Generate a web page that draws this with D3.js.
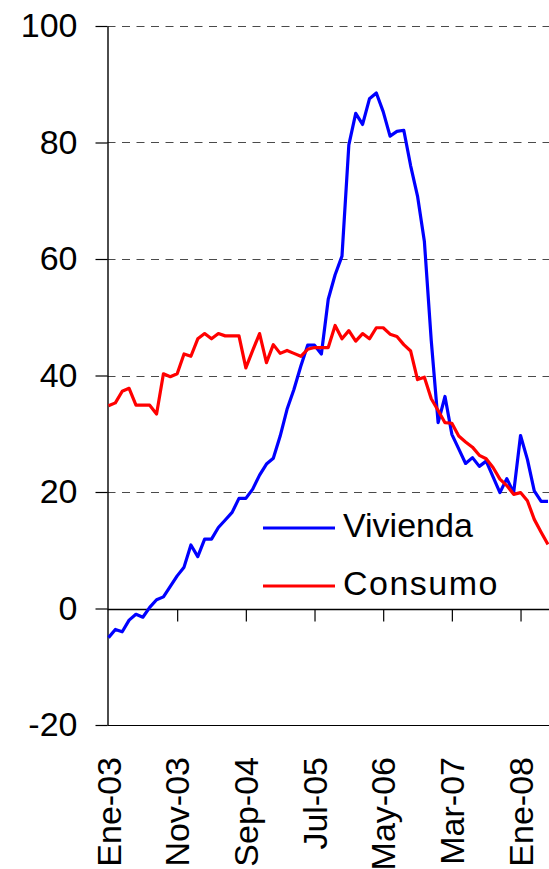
<!DOCTYPE html>
<html>
<head>
<meta charset="utf-8">
<script src="https://cdn.jsdelivr.net/npm/d3@7"></script>
<style>
  html, body { margin: 0; padding: 0; background: #fff; }
  svg { display: block; font-family: "Liberation Sans", Arial, sans-serif; }
</style>
</head>
<body>
<svg id="chart" width="549" height="869"></svg>
<script>
// Monthly growth rates (%), Jan 2003 to May 2008
const monthNames = ["Ene","Feb","Mar","Abr","May","Jun","Jul","Ago","Sep","Oct","Nov","Dic"];
const categories = d3.range(65).map(i => monthNames[i % 12] + "-" + String(3 + Math.floor(i / 12)).padStart(2, "0"));

const vivienda = [
  -5.0, -3.6, -4.0, -2.0, -1.0, -1.5, 0.2, 1.5, 2.0, 3.8,
  5.6, 7.1, 10.9, 8.9, 11.9, 11.9, 13.9, 15.2, 16.5, 18.9,
  18.9, 20.5, 22.9, 24.8, 25.8, 29.6, 34.2, 37.6, 41.6, 45.2,
  45.2, 43.7, 53.1, 57.3, 60.5, 79.6, 85.0, 83.1, 87.5, 88.5,
  85.3, 81.1, 81.9, 82.1, 76.0, 70.8, 63.0, 46.0, 31.9, 36.4,
  29.9, 27.4, 24.9, 25.9, 24.4, 25.3, 22.6, 19.9, 22.3, 19.9,
  29.7, 25.6, 20.2, 18.4, 18.4
];

const consumo = [
  34.8, 35.3, 37.3, 37.8, 34.9, 34.9, 34.9, 33.4, 40.3, 39.8,
  40.3, 43.7, 43.3, 46.3, 47.2, 46.3, 47.2, 46.8, 46.8, 46.8,
  41.3, 44.3, 47.2, 42.2, 45.3, 43.8, 44.3, 43.8, 43.3, 44.5,
  44.8, 44.8, 44.8, 48.6, 46.3, 47.7, 45.9, 47.2, 46.3, 48.2,
  48.2, 47.1, 46.7, 45.3, 44.2, 39.3, 39.7, 36.0, 34.0, 31.9,
  31.8, 29.6, 28.6, 27.7, 26.3, 25.7, 24.2, 22.2, 21.1, 19.6,
  19.9, 18.5, 15.3, 13.1, 11.0
];

const yTicks = [-20, 0, 20, 40, 60, 80, 100];
const gridValues = [20, 40, 60, 80, 100];
const xTickLabels = ["Ene-03", "Nov-03", "Sep-04", "Jul-05", "May-06", "Mar-07", "Ene-08"];

const series = [
  { name: "Vivienda", values: vivienda, color: "#0000ff" },
  { name: "Consumo", values: consumo, color: "#ff0000" }
];

const svg = d3.select("#chart");
const plotLeft = 107.5, plotRight = 549;

const x = d3.scalePoint().domain(categories).range([108.5, 548]);
const y = d3.scaleLinear().domain([-20, 100]).range([725, 26]);

// dashed horizontal gridlines
svg.append("g")
  .selectAll("line")
  .data(gridValues)
  .join("line")
  .attr("x1", plotLeft).attr("x2", plotRight)
  .attr("y1", d => Math.round(y(d)) + 0.5).attr("y2", d => Math.round(y(d)) + 0.5)
  .attr("stroke", "#4a4a4a")
  .attr("stroke-width", 1.2)
  .attr("stroke-dasharray", "8,6.5");

// bottom edge of the plot area
svg.append("line")
  .attr("x1", plotLeft).attr("x2", plotRight)
  .attr("y1", Math.round(y(-20)) + 0.5).attr("y2", Math.round(y(-20)) + 0.5)
  .attr("stroke", "#000").attr("stroke-width", 1.2);

// value axis (plain hyphen for negatives)
const yAxis = svg.append("g")
  .attr("transform", `translate(${plotLeft},0)`)
  .call(d3.axisLeft(y).tickValues(yTicks).tickSize(12).tickSizeOuter(0).tickPadding(18)
    .tickFormat(d => String(d)));
yAxis.select(".domain").attr("stroke", "#000").attr("stroke-width", 1.4);
yAxis.selectAll(".tick line").attr("stroke", "#000").attr("stroke-width", 1.2);
yAxis.selectAll(".tick text")
  .attr("font-size", 34)
  .attr("fill", "#000")
  .attr("font-family", "'Liberation Sans', Arial, sans-serif");

// category axis along the zero line
const xTickCats = xTickLabels.map(l => categories[categories.indexOf(l)]);
const xAxis = svg.append("g")
  .attr("transform", `translate(0,${Math.round(y(0)) + 0.5})`)
  .call(d3.axisBottom(x).tickValues(xTickCats.slice(1)).tickSize(12).tickSizeOuter(0).tickFormat(""));
xAxis.select(".domain").remove();
xAxis.selectAll(".tick line").attr("stroke", "#000").attr("stroke-width", 1.2);
svg.append("line")
  .attr("x1", plotLeft).attr("x2", plotRight)
  .attr("y1", Math.round(y(0)) + 0.5).attr("y2", Math.round(y(0)) + 0.5)
  .attr("stroke", "#000").attr("stroke-width", 1.4);

// rotated month labels below the plot
svg.append("g")
  .selectAll("text")
  .data(xTickCats)
  .join("text")
  .attr("transform", d => `translate(${x(d)},757) rotate(-90)`)
  .attr("text-anchor", "end")
  .attr("dy", "0.36em")
  .attr("font-size", 34)
  .attr("fill", "#000")
  .text(d => d);

// series lines
const line = d3.line()
  .x((d, i) => x(categories[i]))
  .y(d => y(d));

svg.append("g")
  .selectAll("path")
  .data(series)
  .join("path")
  .attr("d", d => line(d.values))
  .attr("fill", "none")
  .attr("stroke", d => d.color)
  .attr("stroke-width", 3.2)
  .attr("stroke-linejoin", "round");

// legend
const legend = svg.append("g")
  .selectAll("g")
  .data(series)
  .join("g")
  .attr("transform", (d, i) => `translate(263,${528 + i * 58})`);
legend.append("line")
  .attr("x1", 0).attr("x2", 72)
  .attr("stroke", d => d.color)
  .attr("stroke-width", 3.2);
legend.append("text")
  .attr("x", 80)
  .attr("dy", "0.26em")
  .attr("font-size", 34)
  .attr("letter-spacing", (d, i) => i === 1 ? 1.5 : 0)
  .attr("fill", "#000")
  .text(d => d.name);
</script>
</body>
</html>
